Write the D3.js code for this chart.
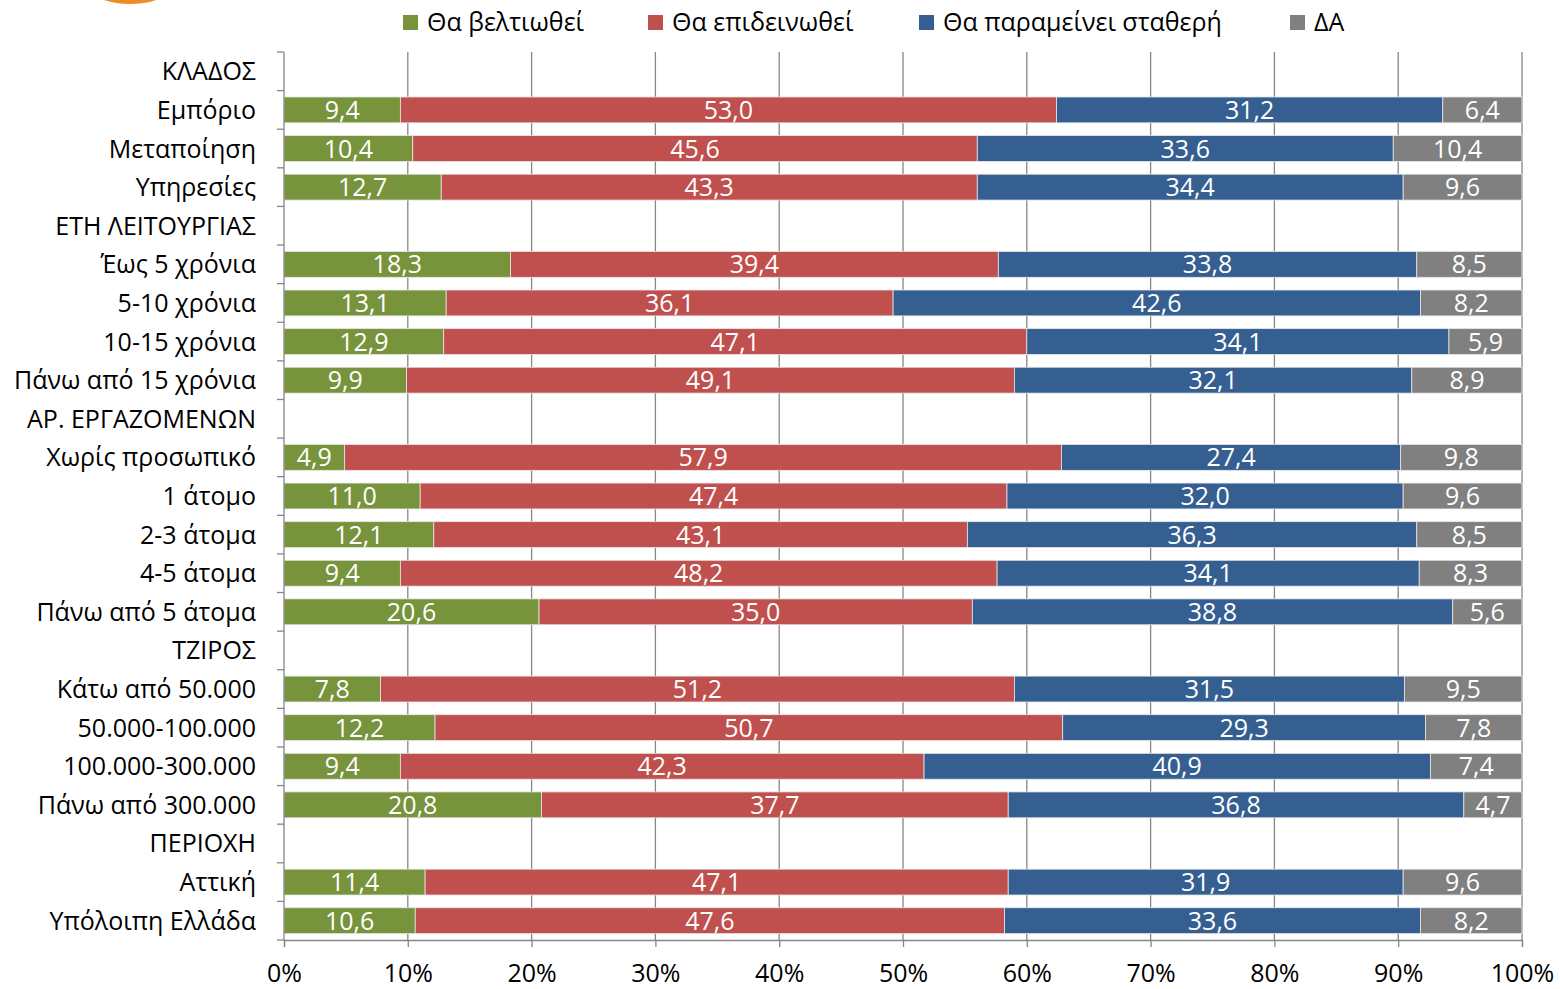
<!DOCTYPE html>
<meta charset="utf-8">
<style>
body { margin: 0; background: #fff; }
text { font-family: "Open Sans", "Noto Sans", sans-serif; }
</style>
<body>
<script src="https://cdn.jsdelivr.net/npm/d3@7"></script>
<script>

// rows of the chart, header rows have no values
var categories = ["ΚΛΑΔΟΣ", "Εμπόριο", "Μεταποίηση", "Υπηρεσίες",
  "ΕΤΗ ΛΕΙΤΟΥΡΓΙΑΣ", "Έως 5 χρόνια", "5-10 χρόνια", "10-15 χρόνια", "Πάνω από 15 χρόνια",
  "ΑΡ. ΕΡΓΑΖΟΜΕΝΩΝ", "Χωρίς προσωπικό", "1 άτομο", "2-3 άτομα", "4-5 άτομα", "Πάνω από 5 άτομα",
  "ΤΖΙΡΟΣ", "Κάτω από 50.000", "50.000-100.000", "100.000-300.000", "Πάνω από 300.000",
  "ΠΕΡΙΟΧΗ", "Αττική", "Υπόλοιπη Ελλάδα"];

var better = [null, 9.4, 10.4, 12.7, null, 18.3, 13.1, 12.9, 9.9, null, 4.9, 11.0, 12.1, 9.4, 20.6, null, 7.8, 12.2, 9.4, 20.8, null, 11.4, 10.6];
var worse  = [null, 53.0, 45.6, 43.3, null, 39.4, 36.1, 47.1, 49.1, null, 57.9, 47.4, 43.1, 48.2, 35.0, null, 51.2, 50.7, 42.3, 37.7, null, 47.1, 47.6];
var stable = [null, 31.2, 33.6, 34.4, null, 33.8, 42.6, 34.1, 32.1, null, 27.4, 32.0, 36.3, 34.1, 38.8, null, 31.5, 29.3, 40.9, 36.8, null, 31.9, 33.6];
var dk     = [null, 6.4, 10.4, 9.6, null, 8.5, 8.2, 5.9, 8.9, null, 9.8, 9.6, 8.5, 8.3, 5.6, null, 9.5, 7.8, 7.4, 4.7, null, 9.6, 8.2];

var seriesNames = ["Θα βελτιωθεί", "Θα επιδεινωθεί", "Θα παραμείνει σταθερή", "ΔΑ"];
var seriesColors = ["#77933c", "#c0504d", "#355f91", "#808080"];
var xTicks = [0, 0.1, 0.2, 0.3, 0.4, 0.5, 0.6, 0.7, 0.8, 0.9, 1.0];

var W = 1560, H = 989;
var margin = {top: 52, right: 38, bottom: 49, left: 284};
var width = W - margin.left - margin.right,
    height = H - margin.top - margin.bottom;

var svg = d3.select("body").append("svg")
    .attr("width", W)
    .attr("height", H);

// bit of the orange logo cut at the top edge
svg.append("path")
    .attr("d", "M104,0 Q125,7 150,2 L156,0 Z")
    .attr("fill", "#f08a24");

var table = categories.map(function(c, i) {
  return {cat: c, v: [better[i], worse[i], stable[i], dk[i]]};
});

var x = d3.scaleLinear().domain([0, 1]).range([0, width]);
var y = d3.scaleBand().domain(categories).range([0, height]).paddingInner(0.33).paddingOuter(0.165);

var g = svg.append("g")
    .attr("transform", "translate(" + margin.left + "," + margin.top + ")");

// vertical grid
g.append("g")
    .selectAll("line")
    .data(xTicks.slice(1))
    .enter().append("line")
    .attr("x1", function(d) { return x(d); })
    .attr("x2", function(d) { return x(d); })
    .attr("y1", 0)
    .attr("y2", height)
    .attr("stroke", "#868686")
    .attr("stroke-width", 1.3);

// bars
table.forEach(function(row) {
  if (row.v[0] === null) return;
  var total = d3.sum(row.v);
  var acc = 0;
  row.v.forEach(function(val, k) {
    var x0 = x(acc / total), x1 = x((acc + val) / total);
    acc += val;
    g.append("rect")
        .attr("x", x0)
        .attr("y", y(row.cat))
        .attr("width", x1 - x0)
        .attr("height", y.bandwidth())
        .attr("fill", seriesColors[k])
        .attr("stroke", "#e6e6e6")
        .attr("stroke-width", 0.8);
    g.append("text")
        .attr("x", (x0 + x1) / 2)
        .attr("y", y(row.cat) + y.bandwidth() / 2 + 9)
        .attr("text-anchor", "middle")
        .attr("fill", "#fff")
        .attr("font-size", 25)
        .text(d3.format(".1f")(val).replace(".", ","));
  });
});

// y axis with tick marks at band edges
var yAxisG = g.append("g");
yAxisG.append("line")
    .attr("x1", 0).attr("x2", 0).attr("y1", 0).attr("y2", height)
    .attr("stroke", "#868686").attr("stroke-width", 1.3);
d3.range(categories.length + 1).forEach(function(i) {
  var yy = i * height / categories.length;
  yAxisG.append("line")
      .attr("x1", -7).attr("x2", 0).attr("y1", yy).attr("y2", yy)
      .attr("stroke", "#868686").attr("stroke-width", 1.3);
});
yAxisG.selectAll("text.cat")
    .data(categories)
    .enter().append("text")
    .attr("class", "cat")
    .attr("x", -28)
    .attr("y", function(d) { return y(d) + y.bandwidth() / 2 + 9; })
    .attr("text-anchor", "end")
    .attr("font-size", 25)
    .attr("fill", "#000")
    .text(function(d) { return d; });

// x axis
var xAxis = g.append("g")
    .attr("transform", "translate(0," + height + ")")
    .call(d3.axisBottom(x)
      .tickValues(xTicks)
      .tickSize(7)
      .tickPadding(17)
      .tickFormat(d3.format(".0%")));
xAxis.select(".domain").attr("stroke", "#868686").attr("stroke-width", 1.3);
xAxis.selectAll(".tick line").attr("stroke", "#868686").attr("stroke-width", 1.3);
xAxis.selectAll("text")
    .attr("font-size", 25)
    .attr("font-family", "'Open Sans', sans-serif")
    .attr("fill", "#000");

// legend
var legendX = [403, 648, 919, 1290];
var legend = svg.append("g");
seriesNames.forEach(function(name, k) {
  legend.append("rect")
      .attr("x", legendX[k]).attr("y", 15)
      .attr("width", 15).attr("height", 15)
      .attr("fill", seriesColors[k]);
  legend.append("text")
      .attr("x", legendX[k] + 24)
      .attr("y", 31)
      .attr("font-size", 25)
      .attr("fill", "#000")
      .text(name);
});

</script>
</body>
